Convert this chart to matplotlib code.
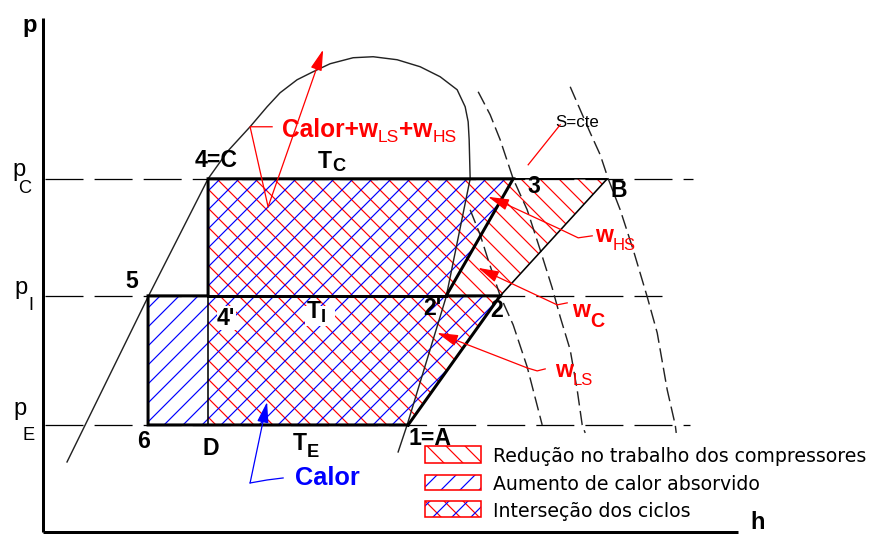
import matplotlib
matplotlib.use("Agg")
import matplotlib.pyplot as plt
from matplotlib.patches import Polygon, Rectangle

plt.rcParams['font.family'] = ['Liberation Sans', 'DejaVu Sans']
plt.rcParams['hatch.linewidth'] = 0.75
plt.rcParams['lines.scale_dashes'] = False

W, H, DPI = 873, 534, 114

# ---------------- schematic data (h to the right, p upwards) ----------------
# pressure levels and how far their dashed guide lines run
pressure_names = ['C', 'I', 'E']
pressure_values = [355, 238, 109]
pressure_guide_end = [693, 662, 690]
p_C, p_I, p_E = pressure_values

# state points of both cycles
state_names = ['1=A', '2', "2'", '3', '4=C', "4'", '5', '6', 'D', 'B']
state_h = [408, 500, 446, 513, 208, 208, 148, 148, 208, 607]
state_p = [p_E, p_I, p_I, p_C, p_C, p_I, p_I, p_E, p_E, p_C]
pt = dict(zip(state_names, zip(state_h, state_p)))

# saturation dome
dome_h = [67, 148, 208, 228, 250, 267, 280, 297, 313, 330, 353, 373, 397,
          420, 440, 457, 465, 468, 469, 470, 446, 407, 398]
dome_p = [72, 237, 355, 383, 407, 427, 441, 454, 462, 470, 476, 477, 474,
          467, 457, 444, 427, 412, 394, 355, 237, 109, 82]

# constant-entropy curves (s = cte)
isen_a_h = [478, 490, 500, 513, 527, 540, 552, 560, 570, 577, 582, 585]
isen_a_p = [442, 419, 394, 355, 324, 284, 246, 217, 184, 144, 109, 101]
isen_b_h = [470, 480, 488, 500, 513, 527, 542]
isen_b_p = [324, 299, 274, 238, 209, 167, 109]
isen_c_h = [570, 590, 600, 608, 620, 633, 647, 657, 667, 675, 676]
isen_c_p = [447, 401, 379, 355, 324, 284, 237, 201, 144, 109, 101]

legend_texts = ['Redução no trabalho dos compressores',
                'Aumento de calor absorvido',
                'Interseção dos ciclos']

# ---------------------------------------------------------------------------
fig = plt.figure(figsize=((W + 0.3) / DPI, (H + 0.3) / DPI), dpi=DPI)
ax = fig.add_axes([0, 0, 1, 1])
ax.set_xlim(0, W)
ax.set_ylim(0, H)
ax.axis('off')
renderer = fig.canvas.get_renderer()

RED, BLUE, BLACK = '#ff0000', '#0000ff', '#000000'
HATCH_R = '\\' * 2
HATCH_B = '/' * 2


def P(*names):
    return [pt[n] for n in names]


def text_run(x, y, pieces, color=BLACK, **kw):
    """Write consecutive pieces (text, size, bold, drop) left to right."""
    for txt, size, bold, drop in pieces:
        t = ax.text(x, y - drop, txt, color=color, fontsize=size,
                    fontweight='bold' if bold else 'normal',
                    ha='left', va='baseline', **kw)
        bb = t.get_window_extent(renderer=renderer)
        x = ax.transData.inverted().transform((bb.x1, bb.y0))[0]
    return x


# hatched areas
overlap = P('D', '1=A', '2', "2'", '3', '4=C')
ax.add_patch(Polygon(overlap, closed=True, facecolor='none', edgecolor=RED,
                     lw=0, hatch=HATCH_R, zorder=1))
ax.add_patch(Polygon(overlap, closed=True, facecolor='none', edgecolor=BLUE,
                     lw=0, hatch=HATCH_B, zorder=1))
ax.add_patch(Polygon(P("2'", '2', 'B', '3'), closed=True, facecolor='none',
                     edgecolor=RED, lw=0, hatch=HATCH_R, zorder=1))
ax.add_patch(Polygon(P('5', "4'", 'D', '6'), closed=True, facecolor='none',
                     edgecolor=BLUE, lw=0, hatch=HATCH_B, zorder=1))

# pressure guide lines
for pv, end in zip(pressure_values, pressure_guide_end):
    ax.plot([45, end], [pv, pv], color=BLACK, lw=0.8, ls=(0, (24, 7)), zorder=2)

# dome and isentropes
ax.plot(dome_h, dome_p, color='#222222', lw=0.9, zorder=2)
for hh, pp in [(isen_a_h, isen_a_p), (isen_b_h, isen_b_p), (isen_c_h, isen_c_p)]:
    ax.plot(hh, pp, color='#222222', lw=0.9, ls=(0, (9, 3.5)), zorder=2)

# cycle outlines
cyc2 = P('1=A', '2', "2'", '3', '4=C', "4'", '5', '6', '1=A')
ax.plot([c[0] for c in cyc2], [c[1] for c in cyc2], color=BLACK, lw=1.9,
        solid_joinstyle='miter', zorder=3)
seg = P("4'", "2'")
ax.plot([s[0] for s in seg], [s[1] for s in seg], color=BLACK, lw=1.9, zorder=3)
seg = P('2', 'B', '3')
ax.plot([s[0] for s in seg], [s[1] for s in seg], color=BLACK, lw=1.0, zorder=3)
seg = P("4'", 'D')
ax.plot([s[0] for s in seg], [s[1] for s in seg], color=BLACK, lw=1.0, zorder=3)

# coordinate axes
ax.plot([43, 43], [516, 2], color=BLACK, lw=1.9, solid_capstyle='butt', zorder=3)
ax.plot([43, 738], [2, 2], color=BLACK, lw=1.9, solid_capstyle='butt', zorder=3)
ax.text(22, 502, 'p', fontsize=15, fontweight='bold', ha='left', va='baseline')
ax.text(750, 5, 'h', fontsize=15, fontweight='bold', ha='left', va='baseline')

# pressure level names
sub_pos = {'C': (12, 358, 18, 341), 'I': (14, 240, 28, 224), 'E': (13, 119, 22, 94)}
for name in pressure_names:
    x1, y1, x2, y2 = sub_pos[name]
    ax.text(x1, y1, 'p', fontsize=15, ha='left', va='baseline')
    ax.text(x2, y2, name, fontsize=11.5, ha='left', va='baseline')

# state labels
lab_kw = dict(fontsize=14.5, fontweight='bold', va='baseline', zorder=5)
ax.text(216, 367, '4=C', ha='center', **lab_kw)
ax.text(527, 341, '3', ha='left', **lab_kw)
ax.text(610, 337, 'B', ha='left', **lab_kw)
ax.text(125, 246, '5', ha='left', **lab_kw)
ax.text(423, 219, "2'", ha='left', **lab_kw)
ax.text(490, 217, '2', ha='left', **lab_kw)
ax.text(137, 86, '6', ha='left', **lab_kw)
ax.text(202, 79, 'D', ha='left', **lab_kw)
ax.text(408, 89, '1=A', ha='left', **lab_kw)
wbox = dict(facecolor='white', edgecolor='none', pad=0.3)
ax.text(217, 209, "4'", ha='left', bbox=wbox, **lab_kw)
ax.add_patch(Rectangle((305, 208), 30, 20, facecolor='white', edgecolor='none', zorder=4))
text_run(318, 366, [('T', 14.5, True, 0), ('C', 11.5, True, 3)], zorder=5)
text_run(307, 216, [('T', 14.5, True, 0), ('I', 11.5, True, 4)], zorder=5)
text_run(293, 84, [('T', 14.5, True, 0), ('E', 11.5, True, 7)], zorder=5)

# leaders and arrows
def leader(hs, ps, color, head=True):
    n = len(hs) - 1 if head else len(hs)
    if n >= 2:
        ax.plot(hs[:n], ps[:n], color=color, lw=0.8, zorder=4)
    if head:
        ax.annotate('', xy=(hs[-1], ps[-1]), xytext=(hs[-2], ps[-2]),
                    arrowprops=dict(arrowstyle='-|>,head_length=0.8,head_width=0.22',
                                    color=color, lw=0.8, shrinkA=0, shrinkB=0,
                                    mutation_scale=14), zorder=4)

leader([272, 250, 268, 323], [407, 407, 327, 484], RED)
leader([592, 578, 557, 505, 488], [298, 296, 306, 330, 337], RED)
leader([567, 557, 478], [231, 229, 266], RED)
leader([545, 537, 527, 437], [165, 163, 166, 201], RED)
leader([560, 528], [409, 369], RED, head=False)
leader([283, 267, 250, 267], [56, 54, 51, 132], BLUE)

# annotation texts
text_run(282, 397, [('Calor+w', 15.5, True, 0), ('LS', 11, False, 5),
                    ('+w', 15.5, True, 0), ('HS', 11, False, 5)], color=RED, zorder=5)
text_run(595, 292, [('w', 14.5, True, 0), ('HS', 10.5, False, 8)], color=RED)
text_run(572, 217, [('w', 14.5, True, 0), ('C', 12.5, True, 10)], color=RED)
text_run(555, 157, [('w', 14.5, True, 0), ('LS', 10.5, False, 8)], color=RED)
ax.text(295, 49, 'Calor', color=BLUE, fontsize=16, fontweight='bold',
        ha='left', va='baseline')
ax.text(555, 407, 'S=cte', color=BLACK, fontsize=10.7, ha='left', va='baseline')

# legend
leg_rows = [(71, 88), (44, 59), (17, 33)]
leg_hatch = [[(RED, HATCH_R)], [(BLUE, HATCH_B)], [(RED, HATCH_R), (BLUE, HATCH_B)]]
for (y0, y1), hatches, txt in zip(leg_rows, leg_hatch, legend_texts):
    for col, hp in hatches:
        ax.add_patch(Rectangle((425, y0), 56, y1 - y0, facecolor='none',
                               edgecolor=col, lw=0, hatch=hp, zorder=6))
    ax.add_patch(Rectangle((425, y0), 56, y1 - y0, facecolor='none',
                           edgecolor=RED, lw=1.0, zorder=7))
    ax.text(493, (y0 + y1) / 2, txt, fontsize=11.9, family='DejaVu Sans',
            ha='left', va='center_baseline', zorder=7)

fig.savefig('out.png', dpi=DPI)
